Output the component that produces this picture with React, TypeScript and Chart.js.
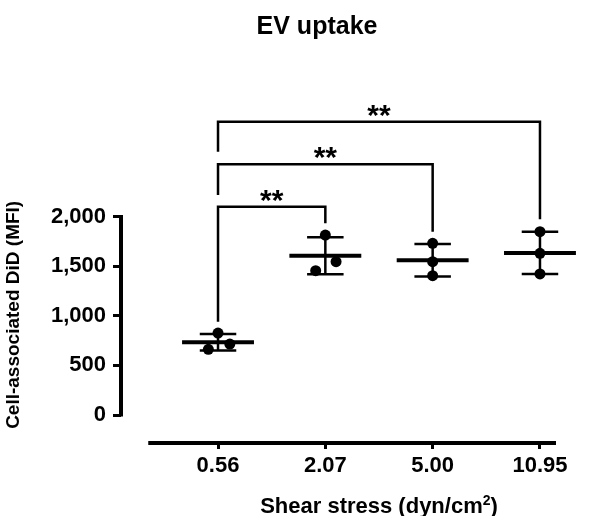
import { useEffect, useRef } from 'react';
import { Chart, registerables } from 'chart.js';

Chart.register(...registerables);

// ---- data ----
const groups = ['0.56', '2.07', '5.00', '10.95'];
const uptake056 = [825, 662, 715];
const uptake207 = [1813, 1545, 1454];
const uptake500 = [1730, 1545, 1404];
const uptake1095 = [1847, 1629, 1421];
const jitter056 = [0, -0.09, 0.11];
const jitter207 = [0, 0.1, -0.09];
const jitter500 = [0, 0, 0];
const jitter1095 = [0, 0, 0];

const yTicks = [0, 500, 1000, 1500, 2000];
const yTickLabels = ['0', '500', '1,000', '1,500', '2,000'];

const bracketPairs = [[0, 1], [0, 2], [0, 3]];
const bracketTop = [2099, 2526, 2955];
const bracketLeftEnd = [940, 2217, 2653];
const bracketRightEnd = [1931, 1847, 1972];
const bracketLabels = ['**', '**', '**'];

const titleText = 'EV uptake';
const yTitle = 'Cell-associated DiD (MFI)';

const FONT = '"Liberation Sans", Arial, Helvetica, sans-serif';

const mean = (a: number[]) => a.reduce((s, v) => s + v, 0) / a.length;
const sd = (a: number[]) => {
  const m = mean(a);
  return Math.sqrt(a.reduce((s, v) => s + (v - m) ** 2, 0) / (a.length - 1));
};

export default function App() {
  const ref = useRef<HTMLCanvasElement>(null);

  useEffect(() => {
    const canvas = ref.current!;
    const series = [uptake056, uptake207, uptake500, uptake1095];
    const jitters = [jitter056, jitter207, jitter500, jitter1095];
    const MEAN_HALF = 0.335;
    const CAP_HALF = 0.17;

    const base = {
      showLine: true,
      borderColor: '#000',
      pointRadius: 0,
      borderCapStyle: 'butt',
      borderJoinStyle: 'miter',
      clip: false,
    };

    const datasets: any[] = [];

    // points
    const pts: { x: number; y: number }[] = [];
    series.forEach((vals, gi) => {
      vals.forEach((v, k) => pts.push({ x: gi + jitters[gi][k], y: v }));
    });
    datasets.push({
      data: pts,
      showLine: false,
      pointRadius: 5.5,
      pointBackgroundColor: '#000',
      pointBorderColor: '#000',
      pointBorderWidth: 0,
    });

    // mean and SD
    series.forEach((vals, gi) => {
      const m = mean(vals);
      const s = sd(vals);
      datasets.push({ ...base, borderWidth: 4, data: [{ x: gi - MEAN_HALF, y: m }, { x: gi + MEAN_HALF, y: m }] });
      datasets.push({ ...base, borderWidth: 2.5, data: [{ x: gi, y: m - s }, { x: gi, y: m + s }] });
      datasets.push({ ...base, borderWidth: 2.5, data: [{ x: gi - CAP_HALF, y: m + s }, { x: gi + CAP_HALF, y: m + s }] });
      datasets.push({ ...base, borderWidth: 2.5, data: [{ x: gi - CAP_HALF, y: m - s }, { x: gi + CAP_HALF, y: m - s }] });
    });

    // brackets
    bracketPairs.forEach(([a, b], i) => {
      datasets.push({
        ...base,
        borderWidth: 2.5,
        data: [
          { x: a, y: bracketLeftEnd[i] },
          { x: a, y: bracketTop[i] },
          { x: b, y: bracketTop[i] },
          { x: b, y: bracketRightEnd[i] },
        ],
      });
    });

    const overlay = {
      id: 'overlay',
      afterDraw(chart: any) {
        const { ctx, chartArea, scales } = chart;
        const xs = scales.x;
        const ys = scales.y;
        ctx.save();
        ctx.strokeStyle = '#000';
        ctx.fillStyle = '#000';
        ctx.lineCap = 'butt';
        // y axis line
        ctx.lineWidth = 4;
        ctx.beginPath();
        ctx.moveTo(chartArea.left, ys.getPixelForValue(yTicks[0]) + 1.5);
        ctx.lineTo(chartArea.left, ys.getPixelForValue(yTicks[yTicks.length - 1]) - 1.5);
        ctx.stroke();
        // x axis line
        ctx.beginPath();
        ctx.moveTo(xs.getPixelForValue(-0.65), chartArea.bottom);
        ctx.lineTo(chartArea.right + 1, chartArea.bottom);
        ctx.stroke();

        // significance stars
        ctx.font = `bold 30px ${FONT}`;
        ctx.textAlign = 'center';
        ctx.textBaseline = 'alphabetic';
        bracketPairs.forEach(([a, b], i) => {
          ctx.fillText(bracketLabels[i], xs.getPixelForValue((a + b) / 2), ys.getPixelForValue(bracketTop[i]) + 3);
        });

        // main title
        ctx.font = `bold 25px ${FONT}`;
        ctx.fillText(titleText, 317, 34);

        // x title with superscript
        const p1 = 'Shear stress (dyn/cm';
        const p2 = '2';
        const p3 = ')';
        ctx.font = `bold 22px ${FONT}`;
        const w1 = ctx.measureText(p1).width;
        const w3 = ctx.measureText(p3).width;
        ctx.font = `bold 14px ${FONT}`;
        const w2 = ctx.measureText(p2).width;
        const cx = xs.getPixelForValue((groups.length - 1) / 2);
        let x = cx - (w1 + w2 + w3) / 2;
        const by = 512.5;
        ctx.textAlign = 'left';
        ctx.font = `bold 22px ${FONT}`;
        ctx.fillText(p1, x, by);
        x += w1;
        ctx.font = `bold 14px ${FONT}`;
        ctx.fillText(p2, x, by - 8);
        x += w2;
        ctx.font = `bold 22px ${FONT}`;
        ctx.fillText(p3, x, by);
        ctx.restore();
      },
    };

    const chart = new Chart(canvas, {
      type: 'scatter',
      data: { datasets },
      options: {
        animation: false,
        responsive: false,
        events: [],
        layout: { padding: { top: 186.7, right: 45, bottom: 0, left: 0 } },
        plugins: {
          legend: { display: false },
          tooltip: { enabled: false },
          title: { display: false },
        },
        scales: {
          x: {
            type: 'linear',
            min: -0.904,
            max: 3.14,
            border: { display: false },
            grid: { drawOnChartArea: false, drawTicks: true, tickLength: 6, lineWidth: 3, color: '#000' },
            ticks: {
              autoSkip: false,
              maxRotation: 0,
              padding: 4,
              color: '#000',
              font: { family: FONT, weight: 'bold', size: 22 },
              callback: (v: any) => groups[Math.round(Number(v))] ?? '',
            },
            afterBuildTicks: (s: any) => {
              s.ticks = groups.map((_, i) => ({ value: i }));
            },
            afterFit: (s: any) => {
              s.height = 73;
            },
          },
          y: {
            type: 'linear',
            min: -282,
            max: 2300,
            border: { display: false },
            grid: { drawOnChartArea: false, drawTicks: true, tickLength: 8, lineWidth: 3, color: '#000' },
            ticks: {
              padding: 7,
              color: '#000',
              font: { family: FONT, weight: 'bold', size: 22 },
              callback: (v: any) => {
                const i = yTicks.indexOf(Number(v));
                return i >= 0 ? yTickLabels[i] : '';
              },
            },
            afterBuildTicks: (s: any) => {
              s.ticks = yTicks.map((v) => ({ value: v }));
            },
            afterFit: (s: any) => {
              s.width = 121;
            },
            title: {
              display: true,
              text: yTitle,
              color: '#000',
              padding: 2,
              font: { family: FONT, weight: 'bold', size: 19 },
            },
          },
        },
      } as any,
      plugins: [overlay],
    });

    return () => chart.destroy();
  }, []);

  return (
    <div style={{ position: 'absolute', left: 0, top: 0, width: 600, height: 516, background: '#fff' }}>
      <canvas ref={ref} width={600} height={516} style={{ display: 'block' }} />
    </div>
  );
}
